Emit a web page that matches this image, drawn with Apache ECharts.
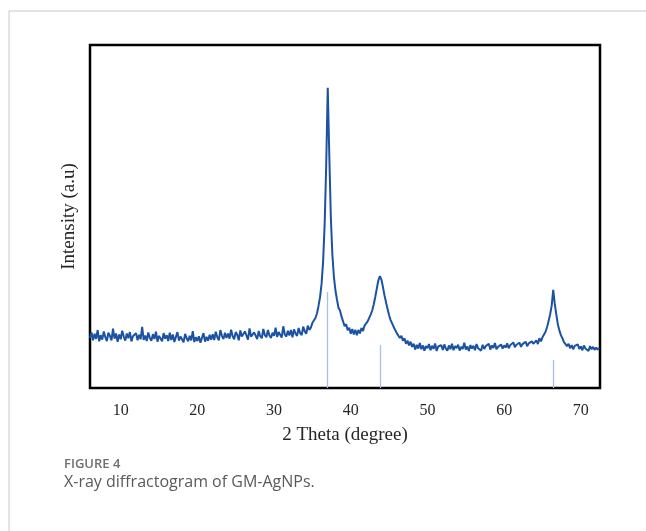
<!DOCTYPE html>
<html>
<head>
<meta charset="utf-8">
<script src="https://cdn.jsdelivr.net/npm/echarts@6/dist/echarts.min.js"></script>
<style>
html,body{margin:0;padding:0;background:#fff;}
#chart{width:646px;height:531px;}
</style>
</head>
<body>
<div id="chart"></div>
<script>
// 2θ sampling of the recorded pattern
const thetaStart = 6.0;
const thetaStep = 0.2;
// intensity (a.u.), one value per 0.2° from 6.0° to 72.4°
const intensity = [
  14.6,16.2,13.9,15.8,14.3,16.9,13.6,15.4,14.1,16.5,
  14.8,13.7,16.1,15.2,13.9,17.3,14.4,15.9,13.5,15.6,
  14.2,16.7,15.0,13.8,15.9,14.5,16.3,13.6,15.1,14.7,
  16.0,13.9,15.5,14.2,17.8,14.0,15.3,13.7,16.2,14.6,
  13.8,15.7,14.3,16.4,13.5,15.2,14.8,13.6,16.0,14.4,
  15.4,13.7,16.1,14.0,15.6,13.4,14.9,16.3,13.8,15.0,
  14.2,13.3,15.8,14.5,13.6,15.2,13.9,16.6,13.4,14.8,
  13.7,15.1,13.2,14.6,16.0,13.5,14.9,13.8,15.5,14.1,
  15.7,14.0,16.4,14.8,13.9,16.9,15.2,14.3,16.1,14.6,
  15.9,14.4,17.0,15.1,14.2,16.3,15.5,13.9,16.8,15.0,
  14.6,16.5,15.3,14.1,17.4,15.0,14.7,16.2,15.8,14.3,
  16.6,15.1,14.5,17.2,15.4,14.8,16.9,15.3,14.6,16.1,
  15.2,17.6,14.9,16.3,15.5,14.7,18.0,15.6,15.0,16.7,
  15.3,16.9,14.8,17.1,15.9,15.2,17.5,16.0,15.4,17.9,
  16.5,15.8,18.2,16.9,17.6,19.0,
  19.0,20.4,21.8,24.0,26.5,30.5,37.0,48.0,65.0,87.5,
  68.0,50.0,39.0,32.5,28.5,25.8,23.4,22.6,20.8,20.9,
  18.0,18.6,16.8,17.6,15.8,17.2,15.6,17.0,15.4,16.9,
  15.9,17.5,16.6,18.2,17.8,19.4,19.4,21.4,22.6,24.4,
  26.6,29.0,31.4,32.6,31.6,29.4,27.0,25.0,23.0,21.2,
  19.8,19.6,17.8,17.6,16.0,16.2,14.6,15.2,13.8,14.5,
  12.9,13.8,12.4,13.5,
  12.0,12.9,11.2,12.6,11.5,13.1,11.3,12.4,10.9,12.2,
  11.6,12.8,11.0,12.3,11.4,13.0,10.8,12.1,11.7,12.5,
  11.1,12.7,11.5,10.9,12.4,11.3,12.9,11.0,12.2,11.6,
  12.6,10.9,12.0,11.4,13.2,11.2,12.1,10.8,12.5,11.5,
  12.3,11.0,12.8,11.6,12.0,10.9,12.6,11.4,12.2,11.8,
  12.9,11.2,12.4,11.7,13.1,11.3,12.0,11.9,12.7,11.5,
  12.4,11.8,13.0,11.6,12.5,12.1,13.3,11.9,12.6,12.2,
  13.2,12.0,12.8,12.4,13.5,12.2,13.0,12.6,13.6,12.9,
  13.4,13.9,12.8,14.5,13.6,14.8,15.2,16.4,17.8,19.5,
  21.5,24.0,28.6,24.5,21.5,18.6,16.8,15.4,14.5,13.4,
  13.0,12.2,12.9,11.6,12.5,11.3,12.3,11.9,12.7,11.4,
  12.1,11.0,12.4,11.5,11.9,10.8,12.2,11.3,12.0,11.1,
  11.8,11.2,11.7
];
// reference (standard) peak positions and stick heights
const refPeaks = [36.9, 43.8, 66.4];
const refHeights = [28, 12.5, 8.2];
// x tick labels
const xTicks = [10, 20, 30, 40, 50, 60, 70];

const xMin = 6.0, xMax = 72.5;
const yMin = 0, yMax = 100;

const pattern = intensity.map((v, i) => [+(thetaStart + i * thetaStep).toFixed(2), v]);
const sticks = refPeaks.map((p, i) => [{coord: [p, 0]}, {coord: [p, refHeights[i]]}]);

const serif = '"Liberation Serif", "DejaVu Serif", serif';
const sans = '"Open Sans", "Noto Sans", sans-serif';

const chart = echarts.init(document.getElementById('chart'), null, {renderer: 'canvas'});
chart.setOption({
  animation: false,
  backgroundColor: '#ffffff',
  grid: {
    left: 90, right: 46, top: 45, bottom: 143,
    show: true, borderColor: '#000', borderWidth: 2.5, backgroundColor: 'transparent'
  },
  xAxis: {
    type: 'value', min: xMin, max: xMax,
    axisLine: {show: false},
    axisTick: {show: false},
    splitLine: {show: false},
    axisLabel: {
      customValues: xTicks, margin: 15,
      color: '#262626', fontFamily: serif, fontSize: 16
    },
    name: '2 Theta (degree)', nameLocation: 'middle', nameGap: 38,
    nameTextStyle: {color: '#262626', fontFamily: serif, fontSize: 19}
  },
  yAxis: {
    type: 'value', min: yMin, max: yMax,
    axisLine: {show: false}, axisTick: {show: false},
    splitLine: {show: false}, axisLabel: {show: false},
    name: 'Intensity (a.u)', nameLocation: 'middle', nameRotate: 90, nameGap: 11,
    nameTextStyle: {color: '#262626', fontFamily: serif, fontSize: 19}
  },
  series: [
    {
      type: 'line', data: [], z: 1,
      markLine: {
        silent: true, symbol: 'none', label: {show: false},
        lineStyle: {color: '#a6c0e6', width: 1.3, type: 'solid'},
        data: sticks
      }
    },
    {
      type: 'line', data: pattern, z: 2,
      showSymbol: false, symbol: 'none',
      lineStyle: {color: '#1c52a4', width: 2},
      clip: true
    }
  ],
  graphic: [
    {type: 'rect', silent: true, z: -10,
      shape: {x: 9, y: 11, width: 700, height: 600},
      style: {fill: 'none', stroke: '#c8c8c8', lineWidth: 1}},
    {type: 'text', left: 64, top: 458,
      style: {text: 'FIGURE 4', fill: '#6f6f6f', font: '600 13px ' + sans}},
    {type: 'text', left: 64, top: 474,
      style: {text: 'X-ray diffractogram of GM-AgNPs.', fill: '#5a5a5a', font: '16px ' + sans}}
  ]
});
</script>
</body>
</html>
